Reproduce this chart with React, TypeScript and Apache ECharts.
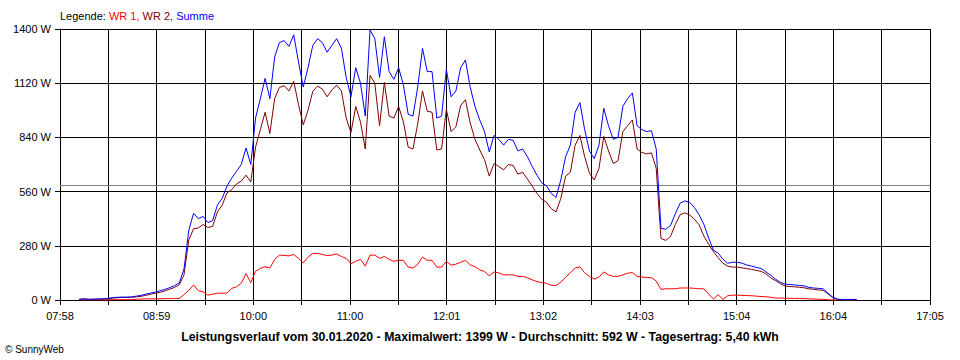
import React, { useEffect, useRef } from "react";
import * as echarts from "echarts";

const axisStart = "07:58";
const xTickLabels = ["07:58", "", "08:59", "", "10:00", "", "11:00", "", "12:01", "", "13:02", "", "14:03", "", "15:04", "", "16:04", "", "17:05"];
const yTicks = [0, 280, 560, 840, 1120, 1400];
const average = 592;

const times = [
  "08:10","08:13","08:16","08:19","08:22","08:25","08:28","08:31","08:34","08:37","08:40","08:43","08:46","08:49","08:52","08:55","08:58",
  "09:01","09:04","09:07","09:10","09:13","09:16","09:19","09:22","09:25","09:28","09:31","09:34","09:37","09:40","09:43","09:46","09:49","09:52","09:55","09:58",
  "10:01","10:04","10:07","10:10","10:13","10:16","10:19","10:22","10:25","10:28","10:31","10:34","10:37","10:40","10:43","10:46","10:49","10:52","10:55","10:58",
  "11:01","11:04","11:07","11:10","11:13","11:16","11:19","11:22","11:25","11:28","11:31","11:34","11:37","11:40","11:43","11:46","11:49","11:52","11:55","11:58",
  "12:01","12:04","12:07","12:10","12:13","12:16","12:19","12:22","12:25","12:28","12:31","12:34","12:37","12:40","12:43","12:46","12:49","12:52","12:55","12:58",
  "13:01","13:04","13:07","13:10","13:13","13:16","13:19","13:22","13:25","13:28","13:31","13:34","13:37","13:40","13:43","13:46","13:49","13:52","13:55","13:58",
  "14:01","14:04","14:07","14:10","14:13","14:16","14:19","14:22","14:25","14:28","14:31","14:34","14:37","14:40","14:43","14:46","14:49","14:52","14:55","14:58",
  "15:01","15:04","15:07","15:10","15:13","15:16","15:19","15:22","15:25","15:28","15:31","15:34","15:37","15:40","15:43","15:46","15:49","15:52","15:55","15:58",
  "16:01","16:04","16:07","16:10","16:13","16:16","16:19"
];

const wr1 = [
  0,0,0,0,0,0,1,2,2,2,2,2,4,5,6,6,6,
  6,7,7,8,8,28,50,78,48,42,25,30,35,35,36,60,68,86,136,90,
  148,163,172,165,210,232,230,228,235,215,192,222,240,240,235,230,232,238,225,215,
  188,200,210,175,232,232,215,225,210,200,205,205,170,165,185,222,205,205,170,170,
  200,180,185,195,205,182,172,156,147,125,145,140,130,130,130,122,122,115,104,95,
  90,86,76,75,92,118,140,165,172,140,122,108,118,145,130,122,122,130,138,142,
  122,118,117,115,98,55,58,58,58,62,62,62,60,58,58,30,5,27,3,22,
  25,25,24,23,22,20,18,17,14,10,10,9,9,8,8,7,6,5,4,3,
  1,0,0,0,0,0,0
];

const wr2 = [
  3,5,3,4,4,5,6,10,12,13,13,14,16,19,24,30,35,
  40,47,56,65,78,130,310,368,372,390,375,380,455,490,553,570,600,614,645,610,
  790,880,970,860,1040,1098,1107,1080,1130,1010,905,980,1078,1105,1090,1050,1085,1110,1080,940,
  865,1000,920,780,1160,1120,900,1125,950,940,1000,920,790,780,910,1080,975,970,775,780,
  985,870,895,1005,1035,915,830,775,725,640,705,690,672,700,695,650,660,625,588,550,
  520,505,472,455,525,640,660,800,850,740,655,620,680,845,770,705,720,870,900,930,
  780,762,755,760,680,318,308,328,390,440,450,440,418,388,330,288,250,218,190,175,
  170,170,166,162,158,153,148,135,115,100,85,72,70,68,66,63,58,55,52,50,
  32,13,3,2,2,2,2
];

const summe = [
  3,6,4,4,5,6,8,12,14,15,15,16,20,24,30,36,41,
  48,55,64,74,88,160,360,448,420,432,400,410,490,525,588,630,665,700,785,700,
  940,1040,1145,1040,1255,1330,1340,1310,1370,1230,1100,1200,1315,1350,1330,1280,1315,1350,1300,1150,
  1050,1200,1120,950,1395,1350,1150,1360,1180,1140,1200,1110,960,950,1100,1300,1180,1180,940,950,
  1190,1050,1080,1200,1240,1100,1000,930,870,765,850,830,800,830,825,770,780,740,690,645,
  605,590,550,530,620,740,800,970,1020,880,770,730,800,990,900,830,840,1000,1040,1070,
  900,880,870,875,780,370,365,385,445,500,512,505,478,440,390,320,257,242,210,190,
  195,195,190,181,175,168,163,145,128,108,92,82,80,78,75,73,65,62,60,58,
  35,15,4,3,3,3,3
];

const FONT = "'Liberation Sans', Arial, sans-serif";

function toMinutes(s: string): number {
  const [h, m] = s.split(":").map(Number);
  return h * 60 + m;
}

export default function App() {
  const ref = useRef<HTMLDivElement>(null);
  useEffect(() => {
    document.body.style.margin = "0";
    if (!ref.current) return;
    const chart = echarts.init(ref.current, null, { renderer: "svg" });
    const t0 = toMinutes(axisStart);
    const interval = 30.4;
    const nInt = xTickLabels.length - 1;
    const mk = (vals: number[]) => vals.map((v, i) => [toMinutes(times[i]) - t0, v]);
    const lineStyle = (c: string) => ({ color: c, width: 1 });
    chart.setOption({
      animation: false,
      backgroundColor: "#ffffff",
      textStyle: { fontFamily: FONT },
      grid: { left: 60, right: 30, top: 29, bottom: 60, containLabel: false },
      xAxis: {
        type: "value",
        min: 0,
        max: interval * nInt,
        interval: interval,
        axisLine: { show: true, lineStyle: { color: "#000", width: 1 } },
        axisTick: { show: true, length: 5, lineStyle: { color: "#000" } },
        splitLine: { show: true, lineStyle: { color: "#000", width: 1 } },
        axisLabel: {
          color: "#000",
          fontSize: 11,
          fontFamily: FONT,
          margin: 10,
          showMaxLabel: true,
          formatter: (v: number) => xTickLabels[Math.round(v / interval)] ?? "",
        },
      },
      yAxis: {
        type: "value",
        min: yTicks[0],
        max: yTicks[yTicks.length - 1],
        interval: yTicks[1] - yTicks[0],
        axisLine: { show: true, lineStyle: { color: "#000", width: 1 } },
        axisTick: { show: true, length: 5, lineStyle: { color: "#000" } },
        splitLine: { show: true, lineStyle: { color: "#000", width: 1 } },
        axisLabel: {
          color: "#000",
          fontSize: 11,
          fontFamily: FONT,
          margin: 9,
          formatter: (v: number) => `${v} W`,
        },
      },
      series: [
        {
          name: "WR 1",
          type: "line",
          data: mk(wr1),
          showSymbol: false,
          lineStyle: lineStyle("#ff0000"),
          itemStyle: { color: "#ff0000" },
          z: 3,
        },
        {
          name: "WR 2",
          type: "line",
          data: mk(wr2),
          showSymbol: false,
          lineStyle: lineStyle("#800000"),
          itemStyle: { color: "#800000" },
          z: 4,
        },
        {
          name: "Summe",
          type: "line",
          data: mk(summe),
          showSymbol: false,
          lineStyle: lineStyle("#0000ff"),
          itemStyle: { color: "#0000ff" },
          z: 5,
          markLine: {
            silent: true,
            symbol: "none",
            label: { show: false },
            lineStyle: { color: "#808080", width: 1, type: "solid" },
            data: [{ yAxis: average }],
            z: 1,
          },
        },
      ],
      graphic: [
        {
          type: "text",
          left: 60,
          top: 10,
          style: {
            text: "{a|Legende: }{b|WR 1, }{c|WR 2, }{d|Summe}",
            font: `11px ${FONT}`,
            rich: {
              a: { fill: "#000", fontSize: 11, fontFamily: FONT },
              b: { fill: "#ff0000", fontSize: 11, fontFamily: FONT },
              c: { fill: "#800000", fontSize: 11, fontFamily: FONT },
              d: { fill: "#0000ff", fontSize: 11, fontFamily: FONT },
            },
          },
        },
        {
          type: "text",
          x: 480,
          y: 337,
          style: {
            text: "Leistungsverlauf vom 30.01.2020 - Maximalwert: 1399 W - Durchschnitt: 592 W - Tagesertrag: 5,40 kWh",
            fill: "#000",
            font: `bold 12.3px ${FONT}`,
            textAlign: "center",
            textVerticalAlign: "middle",
          },
        },
        {
          type: "text",
          x: 5,
          y: 349,
          style: {
            text: "© SunnyWeb",
            fill: "#000",
            font: `10px ${FONT}`,
            textAlign: "left",
            textVerticalAlign: "middle",
          },
        },
      ],
    });
    return () => chart.dispose();
  }, []);
  return <div ref={ref} style={{ width: 960, height: 360 }} />;
}
